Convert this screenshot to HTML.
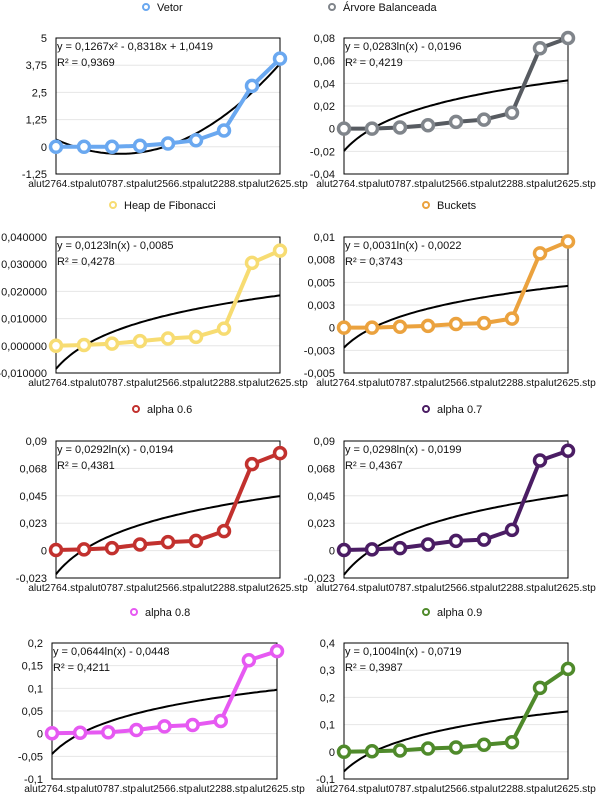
<!DOCTYPE html>
<html><head><meta charset="utf-8"><style>
body{margin:0;background:#fff;width:596px;height:795px;overflow:hidden;font-family:"Liberation Sans",Arial,sans-serif}
svg text{font-family:"Liberation Sans",Arial,sans-serif;font-size:11px;fill:#111}
svg text.xl{font-size:10.2px}
</style></head><body>
<svg id="c" width="596" height="795"></svg>
<script>
const categories=["alut2764.stp","alut0787.stp","alut2566.stp","alut2288.stp","alut2625.stp"];
const vetorValues=[0,0,0,0.05,0.15,0.3,0.75,2.8,4.05];
const arvoreValues=[0,0,0.001,0.003,0.006,0.008,0.014,0.071,0.080];
const heapValues=[0,0.0003,0.0008,0.0017,0.0027,0.0033,0.0063,0.0305,0.035];
const bucketsValues=[0,0,0.0001,0.0002,0.0004,0.0005,0.001,0.0082,0.0095];
const alpha06Values=[0.0005,0.001,0.002,0.005,0.007,0.008,0.016,0.071,0.080];
const alpha07Values=[0.0005,0.001,0.002,0.005,0.008,0.009,0.017,0.074,0.082];
const alpha08Values=[0.001,0.002,0.003,0.008,0.016,0.019,0.028,0.162,0.182];
const alpha09Values=[0,0.002,0.005,0.012,0.016,0.026,0.035,0.235,0.305];
const vetorTicks=["5","3,75","2,5","1,25","0","-1,25"];
const arvoreTicks=["0,08","0,06","0,04","0,02","0","-0,02","-0,04"];
const heapTicks=["0,040000","0,030000","0,020000","0,010000","0,000000","-0,010000"];
const bucketsTicks=["0,01","0,008","0,005","0,003","0","-0,003","-0,005"];
const alphaTicks=["0,09","0,068","0,045","0,023","0","-0,023"];
const alpha08Ticks=["0,2","0,15","0,1","0,05","0","-0,05","-0,1"];
const alpha09Ticks=["0,4","0,3","0,2","0,1","0","-0,1"];

const NS="http://www.w3.org/2000/svg";
const svg=document.getElementById('c');
function mk(t,a,p){const e=document.createElementNS(NS,t);for(const k in a)e.setAttribute(k,a[k]);(p||svg).appendChild(e);return e;}

const panels=[
 {name:"vetor",title:"Vetor",color:"#6aa8f0",mk:"#6aa8f0",vals:vetorValues,ticks:vetorTicks,min:-1.25,max:5,x0:56,x1:280,y0:38,y1:174,lx:146,ly:7,eq:"y = 0,1267x² - 0,8318x + 1,0419",r2:"R² = 0,9369",tr:{t:"poly",a:0.1267,b:-0.8318,c:1.0419}},
 {name:"arvore",title:"Árvore Balanceada",color:"#575b61",mk:"#80858b",vals:arvoreValues,ticks:arvoreTicks,min:-0.04,max:0.08,x0:344,x1:568,y0:38,y1:174,lx:332,ly:7,eq:"y = 0,0283ln(x) - 0,0196",r2:"R² = 0,4219",tr:{t:"log",a:0.0283,b:-0.0196}},
 {name:"heap",title:"Heap de Fibonacci",color:"#f7dc72",mk:"#f7dc72",vals:heapValues,ticks:heapTicks,min:-0.01,max:0.04,x0:56,x1:280,y0:237,y1:373,lx:113,ly:205,eq:"y = 0,0123ln(x) - 0,0085",r2:"R² = 0,4278",tr:{t:"log",a:0.0123,b:-0.0085}},
 {name:"buckets",title:"Buckets",color:"#eba23e",mk:"#eba23e",vals:bucketsValues,ticks:bucketsTicks,min:-0.005,max:0.01,x0:344,x1:568,y0:237,y1:373,lx:426,ly:205,eq:"y = 0,0031ln(x) - 0,0022",r2:"R² = 0,3743",tr:{t:"log",a:0.0031,b:-0.0022}},
 {name:"alpha-06",title:"alpha 0.6",color:"#c2312e",mk:"#c2312e",vals:alpha06Values,ticks:alphaTicks,min:-0.0225,max:0.09,x0:56,x1:280,y0:441,y1:578,lx:136,ly:409,eq:"y = 0,0292ln(x) - 0,0194",r2:"R² = 0,4381",tr:{t:"log",a:0.0292,b:-0.0194}},
 {name:"alpha-07",title:"alpha 0.7",color:"#4b1d64",mk:"#4b1d64",vals:alpha07Values,ticks:alphaTicks,min:-0.0225,max:0.09,x0:344,x1:568,y0:441,y1:578,lx:426,ly:409,eq:"y = 0,0298ln(x) - 0,0199",r2:"R² = 0,4367",tr:{t:"log",a:0.0298,b:-0.0199}},
 {name:"alpha-08",title:"alpha 0.8",color:"#e659f2",mk:"#e659f2",vals:alpha08Values,ticks:alpha08Ticks,min:-0.1,max:0.2,x0:52,x1:277,y0:643,y1:779,lx:134,ly:612,eq:"y = 0,0644ln(x) - 0,0448",r2:"R² = 0,4211",tr:{t:"log",a:0.0644,b:-0.0448}},
 {name:"alpha-09",title:"alpha 0.9",color:"#4f8a2b",mk:"#4f8a2b",vals:alpha09Values,ticks:alpha09Ticks,min:-0.1,max:0.4,x0:344,x1:568,y0:643,y1:779,lx:426,ly:612,eq:"y = 0,1004ln(x) - 0,0719",r2:"R² = 0,3987",tr:{t:"log",a:0.1004,b:-0.0719}}
];

panels.forEach(p=>{
 const g=mk('g',{});
 
 
 const n=p.vals.length;
 const xs=i=>p.x0+(p.x1-p.x0)*i/(n-1);
 const ys=v=>p.y1-(v-p.min)/(p.max-p.min)*(p.y1-p.y0);
 const lg=mk('g',{},g);
 
 
 mk('circle',{cx:p.lx,cy:p.ly,r:3,fill:'#fff',stroke:p.mk,'stroke-width':2},lg);
 const lt=mk('text',{x:p.lx+11,y:p.ly+4},lg);lt.textContent=p.title;
 const nt=p.ticks.length;
 p.ticks.forEach((t,i)=>{
  const y=p.y0+(p.y1-p.y0)*i/(nt-1);
  if(i>0&&i<nt-1){const gl=mk('line',{x1:p.x0,x2:p.x1,y1:y,y2:y,stroke:'#e6e6e6','stroke-width':1},g);
   }
  const tx=mk('text',{x:p.x0-9,y:y+4,'text-anchor':'end'},g);tx.textContent=t;
  
 });
 const bx=mk('rect',{x:p.x0,y:p.y0,width:p.x1-p.x0,height:p.y1-p.y0,fill:'none',stroke:'#000','stroke-width':1},g);
 
 categories.forEach((c,i)=>{
  const t=mk('text',{x:xs(i*2),y:p.y1+13,'text-anchor':'middle','class':'xl'},g);t.textContent=c;
  
 });
 let d='';
 for(let k=0;k<=80;k++){const x=1+8*k/80;
  const v=p.tr.t==='poly'?p.tr.a*x*x+p.tr.b*x+p.tr.c:p.tr.a*Math.log(x)+p.tr.b;
  d+=(k?'L':'M')+(p.x0+(p.x1-p.x0)*(x-1)/8).toFixed(1)+','+ys(v).toFixed(1);}
 const tl=mk('path',{d:d,fill:'none',stroke:'#000','stroke-width':2},g);
 
 const sl=mk('polyline',{points:p.vals.map((v,i)=>xs(i)+','+ys(v)).join(' '),fill:'none',stroke:p.color,'stroke-width':4,'stroke-linejoin':'round'},g);
 
 p.vals.forEach((v,i)=>{
  const c=mk('circle',{cx:xs(i),cy:ys(v),r:5.5,fill:'#fff',stroke:p.mk,'stroke-width':3.5},g);
  
 });
 const e1=mk('text',{x:p.x0+1,y:p.y0+12},g);e1.textContent=p.eq;
 
 const e2=mk('text',{x:p.x0+1,y:p.y0+28},g);e2.textContent=p.r2;
 
});
</script>
</body></html>
